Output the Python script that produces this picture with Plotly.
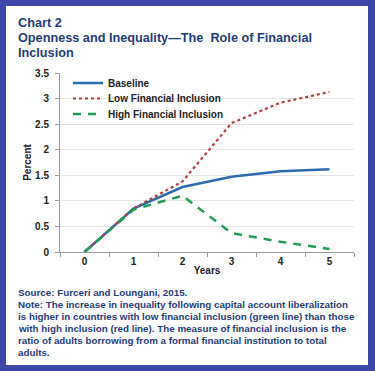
import plotly.graph_objects as go

years = ["0", "1", "2", "3", "4", "5"]
baseline = [0, 0.85, 1.27, 1.47, 1.58, 1.62]
low_incl = [0, 0.85, 1.38, 2.52, 2.92, 3.13]
high_incl = [0, 0.83, 1.10, 0.37, 0.20, 0.06]
y_ticks = [0, 0.5, 1, 1.5, 2, 2.5, 3, 3.5]
y_tick_labels = ["0", "0.5", "1", "1.5", "2", "2.5", "3", "3.5"]

TXT = "#1f3c78"
BORDER = "#3d47a9"
FONT = "Liberation Sans, Arial, sans-serif"

L, R, T, B = 60, 21, 73, 119
W, H = 375, 371
pw, ph = W - L - R, H - T - B

def px(x):
    return (x - L) / pw

def py(y):
    return (H - B - y) / ph

fig = go.Figure()
fig.add_trace(go.Scatter(x=years, y=baseline, mode="lines", name="<b>Baseline</b>",
                         legend="legend",
                         line=dict(color="#2b6cb0", width=2.5)))
fig.add_trace(go.Scatter(x=years, y=low_incl, mode="lines", name="<b>Low Financial Inclusion</b>",
                         legend="legend2",
                         line=dict(color="#b03d3d", width=2.2, dash="dot")))
fig.add_trace(go.Scatter(x=years, y=high_incl, mode="lines", name="<b>High Financial Inclusion</b>",
                         legend="legend3",
                         line=dict(color="#1f9c55", width=2.5, dash="8px,7px")))

def leg(yc):
    return dict(x=px(68), y=py(yc), xanchor="left", yanchor="middle",
                bgcolor="rgba(0,0,0,0)", font=dict(size=10, color="#222"),
                itemwidth=30)

fig.update_layout(
    width=W, height=H,
    margin=dict(l=L, r=R, t=T, b=B),
    paper_bgcolor=BORDER,
    plot_bgcolor="white",
    font=dict(family=FONT, size=10, color="#222"),
    showlegend=True,
    legend=leg(83), legend2=leg(98.5), legend3=leg(114),
    shapes=[dict(type="rect", xref="paper", yref="paper",
                 x0=px(6), x1=px(368), y0=py(6), y1=py(365),
                 fillcolor="white", line=dict(width=0), layer="below")],
    xaxis=dict(type="category", tickson="boundaries", ticks="outside", ticklen=4,
               range=[-0.5, 5.5], automargin=False,
               tickcolor="#999", showline=True, linecolor="#999", showgrid=False,
               tickfont=dict(size=10, color="#222"),
               tickvals=years, ticktext=["<b>%s</b>" % y for y in years],
               title=dict(text="<b>Years</b>", font=dict(size=10, color="#222"), standoff=0)),
    yaxis=dict(range=[0, 3.5], tickvals=y_ticks, ticktext=["<b>%s</b>" % t for t in y_tick_labels],
               automargin=False, ticklabelstandoff=4,
               ticks="outside", ticklen=4, tickcolor="#999", showline=True, linecolor="#999",
               gridcolor="#e3e3e3", zeroline=False,
               tickfont=dict(size=10, color="#222"),
               title=dict(text="<b>Percent</b>", font=dict(size=10, color="#222"), standoff=1)),
)

title_lines = ["Chart 2", "Openness and Inequality\u2014The  Role of Financial", "Inclusion"]
for i, t in enumerate(title_lines):
    fig.add_annotation(text="<b>%s</b>" % t, xref="paper", yref="paper",
                       x=px(16), y=py(23 + 15 * i), xanchor="left", yanchor="middle",
                       showarrow=False, font=dict(size=12.7, color=TXT))

note_lines = [
    "Source: Furceri and Loungani, 2015.",
    "Note: The increase in inequality following capital account liberalization",
    "is higher in countries with low financial inclusion (green line) than those",
    "with high inclusion (red line). The measure of financial inclusion is the",
    "ratio of adults borrowing from a formal financial institution to total",
    "adults.",
]
for i, t in enumerate(note_lines):
    fig.add_annotation(text="<b>%s</b>" % t, xref="paper", yref="paper",
                       x=px(16), y=py(292 + 12 * i), xanchor="left", yanchor="middle",
                       showarrow=False, font=dict(size=9.8, color=TXT))

fig.write_html("out.html", config={"displayModeBar": False},
               post_script="document.body.style.margin='0';document.body.style.overflow='hidden';")
